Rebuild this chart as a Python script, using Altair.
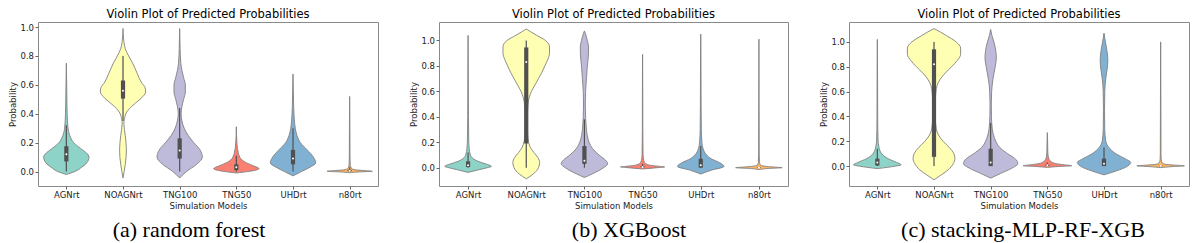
import altair as alt
import pandas as pd

MODELS = ["AGNrt", "NOAGNrt", "TNG100", "TNG50", "UHDrt", "n80rt"]
SET3 = ["#8dd3c7", "#ffffb3", "#bebada", "#fb8072", "#80b1d3", "#fdb462"]
TITLE = "Violin Plot of Predicted Probabilities"
CAPTIONS = ["(a) random forest", "(b) XGBoost", "(c) stacking-MLP-RF-XGB"]
Y_TICKS = [0.0, 0.2, 0.4, 0.6, 0.8, 1.0]

# ---- (a) random forest: violin profiles [probability, half-width] ----
rf_agnrt = [[-0.02, 0], [0.0, 0.15], [0.03, 0.27], [0.06, 0.36], [0.10, 0.40], [0.13, 0.35],
            [0.16, 0.25], [0.20, 0.13], [0.25, 0.06], [0.30, 0.03], [0.40, 0.015], [0.55, 0.008], [0.75, 0]]
rf_noagnrt = [[-0.045, 0], [0.0, 0.02], [0.05, 0.04], [0.10, 0.055], [0.15, 0.06], [0.25, 0.04],
              [0.33, 0.015], [0.40, 0.05], [0.45, 0.15], [0.50, 0.30], [0.55, 0.40], [0.58, 0.39],
              [0.62, 0.32], [0.68, 0.25], [0.75, 0.17], [0.80, 0.10], [0.85, 0.04], [0.90, 0.015], [0.99, 0]]
rf_tng100 = [[-0.045, 0], [0.0, 0.12], [0.05, 0.30], [0.10, 0.40], [0.15, 0.36], [0.20, 0.25],
             [0.25, 0.15], [0.30, 0.08], [0.35, 0.04], [0.40, 0.025], [0.45, 0.04], [0.50, 0.07],
             [0.55, 0.10], [0.60, 0.10], [0.65, 0.07], [0.70, 0.04], [0.75, 0.02], [0.85, 0.008], [0.99, 0]]
rf_tng50 = [[-0.01, 0], [0.0, 0.20], [0.02, 0.40], [0.04, 0.30], [0.06, 0.18], [0.08, 0.10],
            [0.10, 0.06], [0.13, 0.035], [0.16, 0.02], [0.20, 0.01], [0.31, 0]]
rf_uhdrt = [[-0.03, 0], [0.0, 0.15], [0.03, 0.30], [0.06, 0.40], [0.10, 0.36], [0.15, 0.25],
            [0.20, 0.13], [0.25, 0.07], [0.30, 0.04], [0.35, 0.025], [0.45, 0.012], [0.55, 0.006], [0.675, 0]]
rf_n80rt = [[-0.008, 0], [-0.003, 0.15], [0.002, 0.40], [0.007, 0.25], [0.012, 0.10], [0.02, 0.04],
            [0.03, 0.02], [0.05, 0.01], [0.10, 0.006], [0.30, 0.004], [0.52, 0]]
rf_q1 = [0.07, 0.505, 0.09, 0.01, 0.05, 0.002]
rf_q3 = [0.175, 0.63, 0.23, 0.05, 0.15, 0.012]
rf_med = [0.12, 0.56, 0.145, 0.03, 0.09, 0.006]
rf_wlo = [0.0, 0.35, 0.0, 0.0, 0.0, 0.0]
rf_whi = [0.32, 0.80, 0.44, 0.11, 0.30, 0.03]

# ---- (b) XGBoost ----
xgb_agnrt = [[-0.037, 0], [-0.02, 0.15], [0.0, 0.33], [0.01, 0.40], [0.03, 0.30], [0.05, 0.17],
             [0.07, 0.09], [0.10, 0.04], [0.15, 0.02], [0.20, 0.012], [0.40, 0.006], [0.70, 0.004], [1.04, 0]]
xgb_noagnrt = [[-0.087, 0], [-0.05, 0.12], [0.0, 0.21], [0.04, 0.23], [0.08, 0.20], [0.12, 0.13],
               [0.16, 0.07], [0.20, 0.04], [0.25, 0.025], [0.30, 0.02], [0.40, 0.02], [0.50, 0.03],
               [0.55, 0.05], [0.60, 0.09], [0.65, 0.15], [0.70, 0.21], [0.75, 0.27], [0.80, 0.32],
               [0.85, 0.37], [0.90, 0.40], [0.95, 0.40], [1.00, 0.33], [1.04, 0.18], [1.07, 0.07], [1.09, 0]]
xgb_tng100 = [[-0.077, 0], [-0.05, 0.13], [0.0, 0.33], [0.03, 0.40], [0.06, 0.36], [0.10, 0.25],
              [0.15, 0.14], [0.20, 0.08], [0.25, 0.05], [0.30, 0.035], [0.40, 0.02], [0.50, 0.015],
              [0.60, 0.02], [0.70, 0.035], [0.80, 0.05], [0.90, 0.07], [0.95, 0.07], [1.00, 0.05],
              [1.05, 0.02], [1.075, 0]]
xgb_tng50 = [[-0.01, 0], [0.0, 0.25], [0.006, 0.38], [0.012, 0.25], [0.02, 0.12], [0.03, 0.06],
             [0.045, 0.03], [0.07, 0.015], [0.10, 0.008], [0.30, 0.004], [0.60, 0.003], [0.89, 0]]
xgb_uhdrt = [[-0.05, 0], [-0.02, 0.18], [0.01, 0.40], [0.04, 0.32], [0.07, 0.18], [0.10, 0.10],
             [0.15, 0.04], [0.20, 0.02], [0.30, 0.01], [0.50, 0.006], [0.80, 0.004], [1.05, 0]]
xgb_n80rt = [[-0.015, 0], [-0.005, 0.20], [0.0, 0.40], [0.005, 0.25], [0.012, 0.10], [0.02, 0.03],
             [0.04, 0.01], [0.10, 0.005], [1.01, 0]]
xgb_q1 = [0.005, 0.19, 0.03, 0.003, 0.0, 0.0]
xgb_q3 = [0.05, 0.945, 0.17, 0.012, 0.07, 0.004]
xgb_med = [0.02, 0.83, 0.055, 0.006, 0.02, 0.002]
xgb_wlo = [0.0, 0.0, 0.0, 0.0, 0.0, 0.0]
xgb_whi = [0.12, 1.0, 0.38, 0.03, 0.17, 0.01]

# ---- (c) stacking-MLP-RF-XGB ----
stk_agnrt = [[-0.02, 0], [0.0, 0.32], [0.01, 0.42], [0.03, 0.34], [0.06, 0.19], [0.09, 0.095],
             [0.12, 0.05], [0.16, 0.026], [0.20, 0.013], [0.40, 0.006], [0.70, 0.004], [1.02, 0]]
stk_noagnrt = [[-0.11, 0], [-0.07, 0.13], [-0.03, 0.25], [0.02, 0.34], [0.06, 0.37], [0.10, 0.35],
               [0.15, 0.27], [0.20, 0.16], [0.25, 0.08], [0.30, 0.04], [0.40, 0.022], [0.50, 0.022],
               [0.60, 0.034], [0.65, 0.056], [0.70, 0.11], [0.75, 0.20], [0.80, 0.31], [0.85, 0.41],
               [0.90, 0.47], [0.95, 0.47], [1.00, 0.39], [1.05, 0.22], [1.08, 0.11], [1.107, 0]]
stk_tng100 = [[-0.097, 0], [-0.06, 0.17], [-0.02, 0.36], [0.02, 0.48], [0.06, 0.43], [0.10, 0.30],
              [0.15, 0.16], [0.20, 0.09], [0.25, 0.05], [0.30, 0.028], [0.40, 0.014], [0.50, 0.011],
              [0.60, 0.017], [0.70, 0.04], [0.80, 0.08], [0.87, 0.10], [0.93, 0.09], [1.00, 0.057],
              [1.05, 0.023], [1.10, 0]]
stk_tng50 = [[-0.01, 0], [-0.003, 0.20], [0.003, 0.43], [0.01, 0.31], [0.02, 0.15], [0.035, 0.07],
             [0.05, 0.035], [0.08, 0.015], [0.12, 0.008], [0.20, 0.005], [0.27, 0]]
stk_uhdrt = [[-0.07, 0], [-0.04, 0.21], [0.0, 0.42], [0.03, 0.47], [0.06, 0.37], [0.10, 0.21],
             [0.15, 0.085], [0.20, 0.032], [0.30, 0.013], [0.45, 0.009], [0.60, 0.014], [0.70, 0.03],
             [0.78, 0.055], [0.85, 0.068], [0.92, 0.055], [1.00, 0.025], [1.07, 0]]
stk_n80rt = [[-0.012, 0], [-0.004, 0.20], [0.002, 0.42], [0.008, 0.25], [0.015, 0.08], [0.025, 0.03],
             [0.05, 0.01], [0.10, 0.006], [0.50, 0.004], [1.0, 0]]
stk_q1 = [0.005, 0.075, 0.0, 0.003, 0.0, 0.0]
stk_q3 = [0.06, 0.94, 0.14, 0.012, 0.06, 0.004]
stk_med = [0.03, 0.82, 0.03, 0.007, 0.02, 0.002]
stk_wlo = [0.0, 0.0, 0.0, 0.0, 0.0, 0.0]
stk_whi = [0.14, 1.0, 0.35, 0.03, 0.15, 0.01]

FONT = "DejaVu Sans"
LABEL_EXPR = "['AGNrt','NOAGNrt','TNG100','TNG50','UHDrt','n80rt'][round(datum.value)]"


def panel(profiles, q1, q3, med, wlo, whi, ydom, width, height, caption, cap_x, cap_y):
    rows = []
    for i, prof in enumerate(profiles):
        for lvl, w in prof:
            rows.append({"model": MODELS[i], "level": lvl, "left": i - w, "right": i + w})
    vdf = pd.DataFrame(rows)
    bdf = pd.DataFrame({"model": MODELS, "pos": list(range(len(MODELS))),
                        "q1": q1, "q3": q3, "med": med, "wlo": wlo, "whi": whi})

    xscale = alt.Scale(domain=[-0.5, 5.5], nice=False, zero=False)
    yscale = alt.Scale(domain=ydom, nice=False, zero=False)
    xaxis = alt.Axis(values=[0, 1, 2, 3, 4, 5], labelExpr=LABEL_EXPR, grid=False,
                     title="Simulation Models")
    yaxis = alt.Axis(values=Y_TICKS, format=".1f", grid=False, title="Probability")

    def X(f):
        return alt.X(f, scale=xscale, axis=xaxis, title="Simulation Models")

    def Y(f):
        return alt.Y(f, scale=yscale, axis=yaxis, title="Probability")

    violins = alt.Chart(vdf).mark_area(orient="horizontal", stroke="#808080",
                                       strokeWidth=0.9, opacity=1,
                                       interpolate="monotone").encode(
        y=Y("level:Q"),
        x=X("left:Q"),
        x2="right:Q",
        color=alt.Color("model:N", scale=alt.Scale(domain=MODELS, range=SET3), legend=None),
        detail="model:N",
    )
    whisk = alt.Chart(bdf).mark_rule(color="#505050", strokeWidth=1.2).encode(
        x=X("pos:Q"), y=Y("wlo:Q"), y2="whi:Q")
    box = alt.Chart(bdf).mark_rule(color="#505050", strokeWidth=4.2).encode(
        x=X("pos:Q"), y=Y("q1:Q"), y2="q3:Q")
    dot = alt.Chart(bdf).mark_point(filled=True, color="white", size=4, opacity=1).encode(
        x=X("pos:Q"), y=Y("med:Q"))
    cap = alt.Chart(pd.DataFrame({"t": [caption]})).mark_text(
        font="Liberation Serif", fontSize=22, baseline="alphabetic", align="center",
        color="black").encode(text="t:N", x=alt.value(cap_x), y=alt.value(cap_y))

    return alt.layer(violins, whisk, box, dot, cap).properties(
        width=width, height=height,
        title=alt.TitleParams(TITLE, font=FONT, fontSize=11.5, fontWeight="normal",
                              offset=2, anchor="middle", color="black"),
    )


H = 164
p1 = panel([rf_agnrt, rf_noagnrt, rf_tng100, rf_tng50, rf_uhdrt, rf_n80rt],
           rf_q1, rf_q3, rf_med, rf_wlo, rf_whi, [-0.1, 1.035], 340, H, CAPTIONS[0], 151, 215)
p2 = panel([xgb_agnrt, xgb_noagnrt, xgb_tng100, xgb_tng50, xgb_uhdrt, xgb_n80rt],
           xgb_q1, xgb_q3, xgb_med, xgb_wlo, xgb_whi, [-0.144, 1.145], 349, H, CAPTIONS[1], 190, 215)
p3 = panel([stk_agnrt, stk_noagnrt, stk_tng100, stk_tng50, stk_uhdrt, stk_n80rt],
           stk_q1, stk_q3, stk_med, stk_wlo, stk_whi, [-0.16, 1.16], 340, H, CAPTIONS[2], 174, 215)

chart = alt.hconcat(p1, p2, p3, spacing=61, bounds="flush").properties(
    padding={"left": 0, "top": 0, "right": 0, "bottom": 0}
).configure_view(stroke="#8a8a8a", strokeWidth=1).configure_axis(
    labelFont=FONT, titleFont=FONT, labelFontSize=8.5, titleFontSize=8.5,
    titleFontWeight="normal", labelColor="#222222", titleColor="#222222",
    domain=False, tickColor="#666666", tickSize=3, labelPadding=1.5, titlePadding=2,
)

chart.save("out.html", embed_options={"renderer": "svg", "actions": False})
